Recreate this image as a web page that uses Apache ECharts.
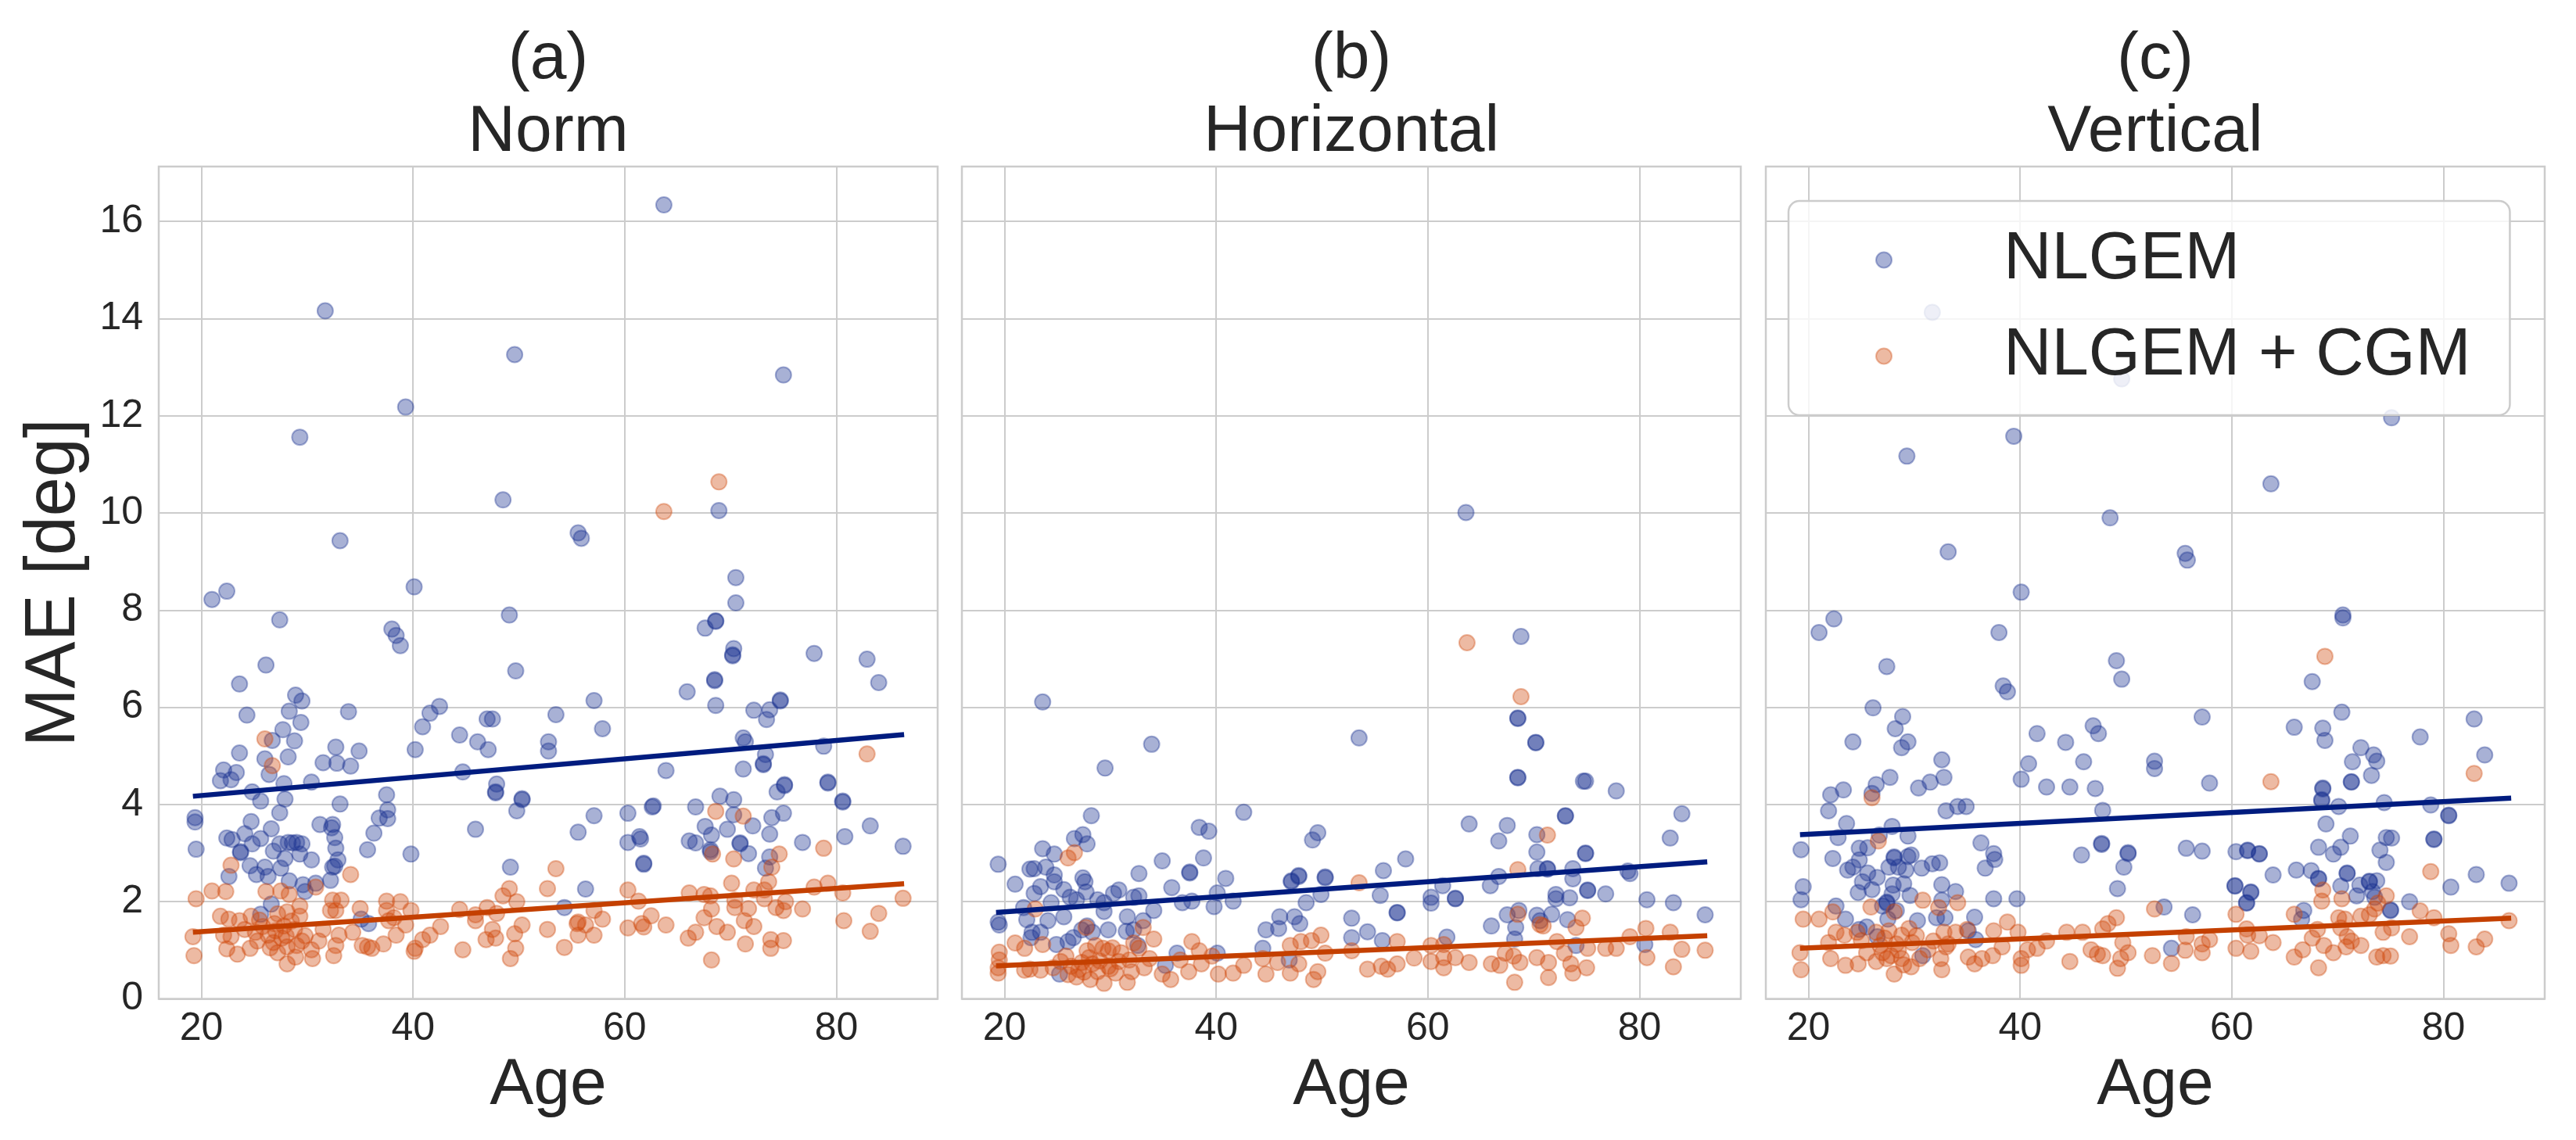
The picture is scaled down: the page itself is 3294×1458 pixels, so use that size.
<!DOCTYPE html>
<html>
<head>
<meta charset="utf-8">
<script src="https://cdn.jsdelivr.net/npm/echarts@6/dist/echarts.min.js"></script>
<style>
html,body{margin:0;padding:0;background:#fff;}
#chart{width:3294px;height:1458px;}
</style>
</head>
<body>
<div id="chart"></div>
<script>
// ---------------- DATA ----------------
const panelTitles = ['(a)\nNorm', '(b)\nHorizontal', '(c)\nVertical'];
const seriesNames = ['NLGEM', 'NLGEM + CGM'];
const xTicks = [20, 40, 60, 80];
const yTicks = [0, 2, 4, 6, 8, 10, 12, 14, 16];

// (a) Norm - NLGEM  [age, MAE]
const normNLGEM = [[63.7,16.34],[31.7,14.16],[49.6,13.26],[75.0,12.84],[39.3,12.18],[29.3,11.56],[48.5,10.27],[68.9,10.05],[55.6,9.59],[55.9,9.48],[33.1,9.43],
[21.0,8.22],[22.4,8.39],[40.1,8.48],[27.4,7.80],[38.0,7.61],[38.4,7.48],[38.8,7.27],[49.1,7.90],[26.1,6.87],[23.6,6.48],[49.7,6.75],[28.9,6.25],[29.5,6.13],[24.3,5.84],[28.3,5.92],[33.9,5.91],[29.4,5.69],[27.7,5.54],[26.7,5.32],[28.8,5.31],[23.6,5.06],[28.2,4.98],[26.0,4.94],[32.7,5.18],[34.9,5.10],[31.5,4.86],[32.8,4.85],[34.1,4.79],[22.1,4.71],[23.3,4.66],[21.8,4.49],[22.8,4.51],[26.4,4.62],[27.8,4.43],[30.4,4.46],[24.8,4.26],[25.6,4.07],[27.9,4.11],[37.5,4.20],[33.1,4.01],[27.4,3.83],[37.6,3.89],[36.8,3.72],[37.6,3.71],[19.4,3.73],[19.4,3.64],[24.7,3.65],[26.6,3.50],[31.2,3.59],[32.3,3.52],[32.4,3.59],[24.1,3.40],[22.4,3.31],[22.9,3.28],[25.6,3.30],[36.3,3.41],[32.6,3.32],[19.5,3.08],[27.4,3.19],[28.2,3.22],[29.0,3.22],[29.5,3.19],[24.8,3.19],[32.7,3.10],[23.7,3.01],[26.8,3.04],[27.9,2.89],[29.3,2.98],[30.4,2.86],[35.7,3.07],[39.8,2.98],[24.6,2.74],[26.0,2.71],[27.5,2.69],[32.4,2.71],[32.9,2.86],[25.2,2.56],[26.3,2.52],[22.6,2.52],[28.3,2.43],[29.6,2.35],[30.8,2.38],[32.2,2.44],[29.8,2.21],[26.6,1.95],[25.6,1.74],[35.8,1.55],[35.1,1.64],[45.9,3.49],[49.2,2.71],[44.4,5.43],[46.1,5.29],[47.1,5.13],[40.9,5.60],[41.6,5.88],[42.5,6.02],[40.2,5.13],[44.7,4.67],[47.0,5.76],[47.5,5.76],[47.9,4.42],[47.8,4.24],[47.8,4.26],[50.3,4.10],[50.3,4.12],[49.8,3.87],[52.8,5.29],[52.8,5.10],[23.7,3.03],[28.6,3.21],[32.6,2.73],
[70.5,8.67],[70.5,8.15],[68.6,7.77],[68.6,7.78],[67.6,7.63],[70.3,7.21],[70.2,7.06],[70.2,7.08],[77.9,7.11],[82.9,6.99],[84.0,6.51],[68.5,6.55],[68.5,6.57],[65.9,6.32],[68.6,6.04],[57.1,6.14],[53.5,5.85],[57.9,5.56],[74.7,6.13],[74.7,6.15],[72.2,5.94],[73.7,5.95],[73.4,5.75],[71.2,5.37],[71.4,5.29],[78.8,5.20],[73.3,5.03],[73.1,4.82],[73.1,4.84],[71.2,4.73],[63.9,4.70],[69.0,4.17],[70.3,4.10],[74.4,4.26],[75.1,4.39],[75.1,4.41],[79.2,4.44],[79.2,4.46],[80.6,4.05],[80.6,4.07],[66.7,3.95],[70.3,3.79],[75.0,3.82],[73.9,3.73],[62.6,3.95],[62.7,3.97],[60.3,3.82],[57.1,3.77],[55.6,3.43],[60.3,3.22],[61.4,3.34],[61.5,3.29],[61.8,2.77],[61.8,2.79],[67.6,3.55],[69.7,3.49],[72.1,3.56],[73.7,3.39],[68.2,3.37],[66.1,3.25],[66.7,3.21],[70.9,3.19],[70.9,3.21],[68.1,3.07],[71.7,2.99],[68.1,3.03],[76.8,3.22],[80.8,3.34],[83.2,3.56],[86.3,3.14],[73.7,2.92],[73.3,2.69],[56.3,2.26],[54.3,1.88]];

// (a) Norm - NLGEM + CGM
const normCGM = [[26.0,5.35],[26.7,4.80],[22.8,2.75],[34.1,2.56],[19.5,2.06],[21.0,2.22],[22.3,2.21],[26.1,2.21],[27.5,2.22],[28.3,2.15],[30.8,2.30],[32.4,2.03],[33.2,2.03],[37.5,2.01],[38.8,2.00],[39.8,1.82],[35.0,1.86],[21.8,1.70],[22.6,1.64],[23.6,1.61],[24.7,1.70],[28.1,1.79],[29.3,1.91],[29.3,1.70],[32.7,1.82],[32.2,1.82],[37.5,1.82],[19.2,1.28],[19.3,0.89],[22.1,1.31],[22.8,1.28],[22.4,1.03],[23.4,0.92],[24.6,1.04],[25.3,1.19],[26.3,1.31],[26.8,1.16],[27.6,1.25],[28.1,1.07],[27.2,0.95],[28.1,0.72],[28.9,0.86],[29.5,1.19],[30.4,1.01],[30.5,0.83],[25.8,1.49],[24.1,1.43],[25.1,1.37],[26.9,1.55],[28.8,1.43],[31.5,1.43],[31.1,1.19],[33.0,1.31],[32.7,1.10],[32.5,0.89],[34.3,1.37],[35.2,1.10],[36.1,1.04],[35.7,1.07],[37.2,1.13],[38.4,1.31],[39.3,1.52],[40.1,0.98],[40.2,1.04],[40.9,1.22],[41.6,1.31],[42.6,1.49],[44.4,1.84],[44.7,1.01],[45.9,1.73],[45.9,1.61],[47.0,1.88],[47.9,1.76],[48.5,2.12],[49.1,2.27],[49.8,2.00],[46.9,1.22],[47.5,1.43],[47.8,1.25],[49.6,1.34],[49.7,1.04],[49.2,0.83],[50.3,1.52],[52.7,2.27],[52.7,1.43],[37.7,1.61],[38.2,1.67],[27.0,1.40],[28.5,1.60],[29.0,1.10],[27.8,1.50],[26.5,1.05],[29.8,1.30],[28.0,1.30],[25.5,1.62],[27.2,1.75],
[68.9,10.64],[63.7,10.03],
[82.9,5.04],[68.6,3.86],[71.2,3.76],[68.3,2.98],[70.3,2.88],[74.6,2.98],[78.8,3.10],[73.9,2.71],[53.5,2.68],[73.6,2.41],[70.1,2.38],[79.2,2.38],[77.9,2.30],[80.6,2.18],[86.3,2.07],[73.2,2.24],[73.2,2.06],[72.2,2.24],[70.4,2.03],[70.4,1.88],[71.7,1.86],[75.2,2.00],[75.0,1.82],[74.3,1.88],[76.8,1.85],[68.2,1.85],[68.1,2.12],[66.1,2.18],[67.5,2.15],[60.3,2.24],[61.3,2.01],[57.1,1.82],[57.9,1.64],[55.6,1.58],[56.3,1.52],[62.5,1.71],[61.6,1.55],[60.3,1.46],[61.8,1.48],[63.9,1.52],[67.5,1.67],[66.7,1.37],[66.0,1.25],[68.7,1.49],[69.7,1.37],[71.3,1.61],[72.2,1.49],[71.4,1.13],[73.8,1.22],[75.0,1.20],[73.8,1.04],[68.2,0.80],[80.7,1.61],[84.0,1.76],[83.2,1.39],[55.6,1.31],[57.1,1.31],[54.3,1.06],[55.5,1.55]];

// (b) Horizontal - NLGEM
const horNLGEM = [[63.6,10.01],
[23.6,6.11],[33.9,5.24],[29.5,4.75],[28.2,3.77],[19.4,2.77],[23.6,3.09],[24.7,2.98],[26.6,3.30],[27.4,3.38],[27.8,3.19],[22.4,2.67],[22.8,2.68],[23.9,2.71],[21.0,2.36],[23.4,2.31],[24.7,2.55],[24.7,2.41],[22.8,2.17],[25.6,2.25],[24.4,1.98],[26.2,2.09],[26.8,2.04],[27.4,2.49],[27.6,2.41],[27.7,2.20],[28.8,2.04],[29.4,1.98],[30.3,2.17],[30.8,2.24],[32.7,2.58],[34.9,2.84],[32.2,2.09],[32.7,2.12],[35.8,2.29],[37.5,2.59],[37.5,2.61],[38.4,3.53],[39.3,3.45],[38.8,2.90],[40.9,2.48],[42.6,3.84],[40.1,2.18],[41.6,2.01],[39.8,1.90],[37.7,2.01],[36.8,1.98],[34.1,1.82],[29.4,1.80],[19.4,1.58],[19.5,1.52],[21.8,1.88],[22.1,1.63],[24.1,1.61],[25.6,1.69],[22.6,1.37],[23.4,1.37],[22.5,1.26],[24.9,1.12],[26.0,1.18],[26.5,1.26],[27.3,1.42],[27.8,1.50],[28.3,1.37],[29.8,1.42],[31.6,1.69],[33.1,1.61],[31.5,1.39],[32.2,1.42],[32.6,1.10],[36.3,0.94],[44.4,1.04],[46.0,1.69],[45.9,1.45],[44.7,1.42],[47.4,1.69],[47.9,1.55],[47.1,2.41],[47.1,2.43],[47.8,2.52],[47.8,2.54],[49.1,3.27],[49.6,3.42],[48.5,1.98],[49.9,2.15],[50.3,2.49],[50.3,2.51],[40.1,0.94],[35.2,0.69],[25.2,0.51],[46.9,0.80],
[68.8,7.46],[68.5,5.77],[68.5,5.78],[70.2,5.27],[70.2,5.28],[68.5,4.55],[68.5,4.56],[74.7,4.48],[74.9,4.48],[77.8,4.28],[53.5,5.37],[63.9,3.60],[67.5,3.57],[73.0,3.76],[73.0,3.77],[66.7,3.25],[70.3,3.38],[84.0,3.81],[82.9,3.31],[74.9,2.99],[74.9,3.00],[70.3,3.02],[57.9,2.88],[55.8,2.64],[71.3,2.67],[71.3,2.68],[70.4,2.68],[73.7,2.68],[73.7,2.47],[66.7,2.52],[65.9,2.33],[61.4,2.33],[78.9,2.63],[79.1,2.58],[55.5,2.13],[60.3,2.09],[60.3,1.97],[62.6,2.06],[62.6,2.07],[72.1,2.15],[72.1,2.06],[73.4,2.08],[75.1,2.23],[75.1,2.24],[76.8,2.16],[80.7,2.04],[83.2,1.98],[86.2,1.73],[57.1,1.77],[57.1,1.78],[52.8,1.66],[54.3,1.38],[55.7,1.20],[67.5,1.73],[68.6,1.82],[70.3,1.72],[71.7,1.74],[68.3,1.47],[66.0,1.50],[73.2,1.63],[70.6,1.61],[61.8,1.27],[68.2,1.23],[80.5,1.12],[52.8,1.26],[74.0,1.10]];

// (b) Horizontal - NLGEM + CGM
const horCGM = [[26.0,2.90],[26.6,3.01],[22.9,1.85],[27.7,1.47],[33.1,1.47],[34.1,1.23],[21.0,1.15],[19.5,0.96],[23.6,1.12],[21.9,1.04],[32.2,1.15],[32.7,1.04],[37.7,1.18],[38.4,0.99],[29.3,1.04],[29.8,0.99],[27.8,0.99],[19.4,0.64],[19.4,0.53],[22.4,0.61],[23.4,0.59],[24.6,0.64],[26.3,0.67],[26.8,0.45],[28.1,0.40],[28.8,0.56],[29.4,0.32],[30.5,0.53],[31.6,0.34],[33.2,0.64],[34.9,0.51],[35.7,0.40],[37.4,0.56],[38.6,0.72],[39.6,0.88],[40.2,0.51],[41.6,0.53],[42.6,0.69],[44.7,0.51],[45.8,0.75],[47.0,1.10],[48.0,1.18],[49.0,1.20],[49.9,1.31],[47.8,0.72],[47.0,0.53],[49.6,0.56],[49.2,0.40],[50.3,0.94],[30.8,0.77],[32.0,0.56],[25.8,0.88],[25.3,0.77],[27.3,0.75],[33.7,0.83],[36.6,0.80],[44.4,0.83],[19.5,0.80],[21.9,0.59],[28.3,0.72],[29.8,0.67],[27.0,0.60],[28.0,0.85],[29.0,0.78],[30.0,0.62],[31.0,0.95],[27.5,0.55],[28.6,1.10],[30.2,1.05],[26.0,0.50],[31.8,0.80],
[63.7,7.33],[68.8,6.22],[71.3,3.37],[53.5,2.39],[68.5,2.66],[68.5,1.74],[70.6,1.53],[70.9,1.50],[74.6,1.66],[74.0,1.47],[80.6,1.45],[79.1,1.28],[82.9,1.37],[57.1,1.18],[60.3,1.10],[61.5,1.12],[52.8,0.99],[58.7,0.84],[57.1,0.72],[55.6,0.67],[56.2,0.61],[54.3,0.61],[60.3,0.77],[61.5,0.85],[61.5,0.64],[62.6,0.85],[63.9,0.75],[66.0,0.72],[66.8,0.69],[68.1,0.88],[68.7,0.75],[70.3,0.85],[71.4,0.75],[72.2,1.18],[72.9,0.94],[73.5,0.72],[73.7,0.53],[75.0,0.64],[75.1,1.04],[76.8,1.04],[77.8,1.04],[80.7,0.85],[83.2,0.66],[84.0,1.02],[86.2,1.00],[68.2,0.34],[71.4,0.44],[67.3,0.94]];

// (c) Vertical - NLGEM
const verNLGEM = [[31.7,14.13],[49.6,12.76],[75.1,11.96],[39.4,11.58],[29.3,11.17],[63.7,10.60],[48.5,9.90],
[33.2,9.20],[40.1,8.37],[21.0,7.54],[22.4,7.82],[38.0,7.54],[27.4,6.84],[38.4,6.44],[38.8,6.32],[49.1,6.96],[49.6,6.58],[26.1,5.99],[28.9,5.81],[28.2,5.56],[29.4,5.29],[28.8,5.17],[24.2,5.29],[32.6,4.92],[32.8,4.56],[27.7,4.56],[26.4,4.41],[26.0,4.23],[23.3,4.30],[22.1,4.20],[21.9,3.87],[30.4,4.34],[31.5,4.46],[41.6,5.46],[40.8,4.84],[40.1,4.52],[44.3,5.28],[46.9,5.62],[47.4,5.46],[46.0,4.88],[42.5,4.36],[44.7,4.36],[47.1,4.33],[47.8,3.88],[52.7,4.89],[52.7,4.74],[33.0,3.87],[34.1,3.96],[34.9,3.96],[23.6,3.61],[27.9,3.55],[26.7,3.37],[22.8,3.32],[29.4,3.35],[19.3,3.07],[22.3,2.89],[24.8,3.10],[25.6,3.11],[24.8,2.86],[23.7,2.65],[24.2,2.71],[28.1,2.90],[28.1,2.92],[29.4,2.93],[29.7,2.96],[27.6,2.71],[28.5,2.71],[25.6,2.59],[29.2,2.65],[30.7,2.69],[31.7,2.78],[32.4,2.80],[36.3,3.21],[37.5,2.99],[37.6,2.87],[36.7,2.69],[45.8,2.96],[47.7,3.18],[47.7,3.20],[50.2,2.99],[50.2,3.01],[49.8,2.71],[49.2,2.27],[25.1,2.41],[26.5,2.50],[28.0,2.34],[29.0,2.37],[19.5,2.31],[19.3,2.04],[24.7,2.19],[26.0,2.25],[27.9,2.16],[29.6,2.13],[32.6,2.35],[33.9,2.21],[32.6,2.03],[37.5,2.06],[39.7,2.06],[22.6,1.91],[27.4,1.97],[27.4,1.99],[27.0,1.91],[23.5,1.64],[28.3,1.82],[30.3,1.61],[32.1,1.67],[32.9,1.67],[35.7,1.68],[24.8,1.43],[25.5,1.48],[26.5,1.28],[35.1,1.40],[35.8,1.22],[30.8,0.89],[27.5,1.64],
[55.6,9.17],[55.8,9.03],[70.5,7.90],[70.5,7.84],[67.6,6.53],[57.2,5.80],[70.4,5.90],[65.9,5.59],[68.6,5.57],[68.8,5.32],[77.8,5.39],[82.9,5.76],[83.9,5.02],[72.2,5.17],[73.4,5.02],[73.7,4.89],[71.4,4.88],[73.2,4.60],[57.9,4.44],[68.6,4.32],[68.6,4.34],[68.5,4.08],[68.5,4.10],[71.3,4.46],[71.3,4.47],[70.1,3.96],[74.4,4.04],[78.8,3.99],[80.5,3.77],[80.5,3.78],[68.9,3.60],[71.2,3.35],[74.6,3.32],[75.1,3.31],[79.1,3.28],[79.1,3.29],[55.7,3.10],[57.2,3.04],[60.4,3.03],[61.5,3.05],[61.5,3.06],[62.6,2.98],[62.6,2.99],[68.2,3.12],[70.3,3.12],[69.6,2.98],[74.0,3.06],[74.6,2.81],[63.9,2.55],[66.1,2.65],[67.5,2.64],[68.2,2.47],[68.2,2.48],[70.9,2.58],[70.9,2.59],[70.3,2.32],[72.1,2.34],[73.0,2.41],[73.0,2.42],[73.7,2.43],[71.8,2.12],[73.3,2.21],[73.5,2.09],[60.3,2.32],[60.3,2.33],[61.8,2.19],[61.8,2.20],[61.4,1.97],[61.4,1.98],[76.8,2.00],[80.7,2.30],[83.1,2.56],[86.2,2.38],[75.0,1.82],[75.0,1.83],[53.6,1.89],[56.3,1.73],[66.8,1.82],[66.6,1.64],[54.3,1.04]];

// (c) Vertical - NLGEM + CGM
const verCGM = [[26.0,4.14],[26.6,3.25],[30.8,2.03],[34.1,1.98],[25.9,1.89],[28.1,1.79],[32.3,1.88],[19.5,1.64],[21.0,1.64],[22.3,1.79],[21.9,1.16],[22.6,1.37],[23.4,1.31],[24.6,1.37],[26.4,1.37],[27.6,1.40],[28.8,1.31],[19.2,0.95],[19.3,0.60],[22.1,0.83],[23.5,0.69],[24.7,0.72],[25.5,0.95],[26.4,0.77],[27.4,0.83],[28.1,0.51],[27.8,0.89],[28.8,0.83],[29.7,0.66],[30.5,0.83],[31.3,1.01],[31.8,1.19],[32.8,1.37],[33.0,1.07],[32.5,0.83],[32.6,0.60],[33.2,1.13],[33.9,1.37],[35.0,1.43],[35.1,0.86],[35.7,0.72],[36.4,0.83],[37.4,0.89],[37.5,1.40],[38.3,1.07],[38.8,1.58],[39.8,1.37],[40.1,0.83],[40.1,0.69],[40.7,1.01],[41.6,1.04],[42.5,1.19],[44.4,1.37],[44.7,0.77],[45.9,1.37],[46.7,1.01],[47.3,0.92],[47.8,0.89],[47.8,1.44],[48.3,1.55],[49.1,1.67],[49.7,1.16],[50.2,0.95],[49.5,0.83],[49.2,0.63],[52.7,1.85],[52.5,0.89],[29.8,1.16],[28.3,1.13],[25.0,1.20],[26.8,1.10],[27.2,1.25],[28.5,1.00],[29.5,1.45],[30.2,1.30],[27.0,0.95],[29.0,0.70],
[68.8,7.05],[63.7,4.47],[82.9,4.64],[78.8,2.62],[68.6,2.24],[68.5,2.01],[70.4,2.06],[74.6,2.12],[73.8,1.97],[73.5,1.85],[73.0,1.73],[60.4,1.74],[65.9,1.74],[70.1,1.67],[70.7,1.64],[72.2,1.70],[77.8,1.81],[79.1,1.67],[86.2,1.61],[61.4,1.44],[61.5,1.31],[62.6,1.30],[68.1,1.43],[70.3,1.46],[70.9,1.28],[71.3,1.19],[74.3,1.37],[75.1,1.46],[76.8,1.28],[80.5,1.34],[80.7,1.10],[83.1,1.07],[83.9,1.23],[55.7,1.28],[57.9,1.22],[57.2,1.13],[55.6,1.00],[57.2,0.95],[60.4,1.04],[61.8,0.98],[63.9,1.16],[66.7,1.01],[65.9,0.86],[67.6,1.25],[68.7,1.10],[69.6,0.95],[70.8,1.07],[72.2,1.10],[73.7,0.86],[74.3,0.89],[75.0,0.88],[68.2,0.64],[54.3,0.73]];

// Linear-fit lines: value at the two end ages
const fitAges = [19.2, 86.4];
const normFitNLGEM = [4.17, 5.44];
const normFitCGM = [1.37, 2.37];
const horFitNLGEM = [1.78, 2.82];
const horFitCGM = [0.68, 1.30];
const verFitNLGEM = [3.38, 4.13];
const verFitCGM = [1.04, 1.66];

// ---------------- STYLE / LAYOUT ----------------
const FONT = "'Liberation Sans', Arial, Helvetica, sans-serif";
const TEXT = '#262626';
const GRIDC = '#cccccc';
const BLUE_DOT = '#1a3391';
const ORANGE_DOT = '#d04a0c';
const BLUE_LINE = '#001c7f';
const ORANGE_LINE = '#c44000';
const DOT_ALPHA = 0.38;

const panelLefts = [203, 1230, 2258];
const panelWidth = 996;
const panelTop = 213;
const panelHeight = 1064.5;
const X_MIN = 15.97, X_MAX = 89.57, Y_MIN = 0, Y_MAX = 17.13;

const panels = [
  {nl: normNLGEM, cg: normCGM, fnl: normFitNLGEM, fcg: normFitCGM},
  {nl: horNLGEM, cg: horCGM, fnl: horFitNLGEM, fcg: horFitCGM},
  {nl: verNLGEM, cg: verCGM, fnl: verFitNLGEM, fcg: verFitCGM}
];

const grid = [], xAxis = [], yAxis = [], series = [], title = [];
panels.forEach((p, i) => {
  grid.push({left: panelLefts[i], top: panelTop, width: panelWidth, height: panelHeight,
    show: true, borderColor: GRIDC, borderWidth: 2.5, backgroundColor: 'transparent', containLabel: false});
  xAxis.push({
    type: 'value', gridIndex: i, min: X_MIN, max: X_MAX, splitNumber: 3, minInterval: 20, maxInterval: 20,
    name: 'Age', nameLocation: 'middle', nameGap: 66,
    nameTextStyle: {fontSize: 84, color: TEXT, fontFamily: FONT},
    axisLine: {show: false}, axisTick: {show: false},
    axisLabel: {show: true, fontSize: 50, color: TEXT, fontFamily: FONT, margin: 14,
      showMinLabel: false, showMaxLabel: false,
      formatter: v => (xTicks.indexOf(Math.round(v)) >= 0 && Math.abs(v - Math.round(v)) < 1e-6) ? String(Math.round(v)) : ''},
    splitLine: {show: true, lineStyle: {color: GRIDC, width: 2}}
  });
  yAxis.push({
    type: 'value', gridIndex: i, min: Y_MIN, max: Y_MAX, interval: 2,
    name: i === 0 ? 'MAE [deg]' : '', nameLocation: 'middle', nameGap: 88,
    nameTextStyle: {fontSize: 90, color: TEXT, fontFamily: FONT},
    axisLine: {show: false}, axisTick: {show: false},
    axisLabel: {show: i === 0, fontSize: 50, color: TEXT, fontFamily: FONT, margin: 20,
      showMaxLabel: false,
      formatter: v => (yTicks.indexOf(Math.round(v)) >= 0 && Math.abs(v - Math.round(v)) < 1e-6) ? String(Math.round(v)) : ''},
    splitLine: {show: true, lineStyle: {color: GRIDC, width: 2}}
  });
  title.push({
    text: panelTitles[i], left: panelLefts[i] + panelWidth / 2, top: 30, textAlign: 'center', padding: 0,
    textStyle: {fontSize: 84, fontWeight: 'normal', color: TEXT, fontFamily: FONT, lineHeight: 93}
  });
  series.push({
    type: 'scatter', name: seriesNames[0], xAxisIndex: i, yAxisIndex: i, data: p.nl,
    symbol: 'circle', symbolSize: 20, silent: true, z: 2,
    itemStyle: {color: BLUE_DOT, opacity: DOT_ALPHA, borderColor: BLUE_DOT, borderWidth: 2}
  });
  series.push({
    type: 'scatter', name: seriesNames[1], xAxisIndex: i, yAxisIndex: i, data: p.cg,
    symbol: 'circle', symbolSize: 20, silent: true, z: 2,
    itemStyle: {color: ORANGE_DOT, opacity: DOT_ALPHA, borderColor: ORANGE_DOT, borderWidth: 2}
  });
  series.push({
    type: 'line', name: 'fitNL' + i, xAxisIndex: i, yAxisIndex: i,
    data: fitAges.map((a, k) => [a, p.fnl[k]]), symbol: 'none', silent: true, z: 3,
    lineStyle: {color: BLUE_LINE, width: 6.5}
  });
  series.push({
    type: 'line', name: 'fitCG' + i, xAxisIndex: i, yAxisIndex: i,
    data: fitAges.map((a, k) => [a, p.fcg[k]]), symbol: 'none', silent: true, z: 3,
    lineStyle: {color: ORANGE_LINE, width: 6.5}
  });
});

const chart = echarts.init(document.getElementById('chart'), null, {renderer: 'canvas', width: 3294, height: 1458});
chart.setOption({
  backgroundColor: '#ffffff',
  animation: false,
  title: title,
  grid: grid, xAxis: xAxis, yAxis: yAxis,
  legend: {
    data: seriesNames.map(n => ({name: n, icon: 'circle'})),
    orient: 'vertical', left: 2287, top: 257, z: 10,
    padding: [28, 50, 28, 111], itemGap: 28, itemWidth: 202, itemHeight: 20,
    backgroundColor: 'rgba(255,255,255,0.8)', borderColor: GRIDC, borderWidth: 2.5, borderRadius: 14,
    selectedMode: false,
    itemStyle: {opacity: DOT_ALPHA},
    textStyle: {fontSize: 85, color: TEXT, fontFamily: FONT, lineHeight: 95, padding: [0, 0, 0, 47]}
  },
  series: series
});
</script>
</body>
</html>
